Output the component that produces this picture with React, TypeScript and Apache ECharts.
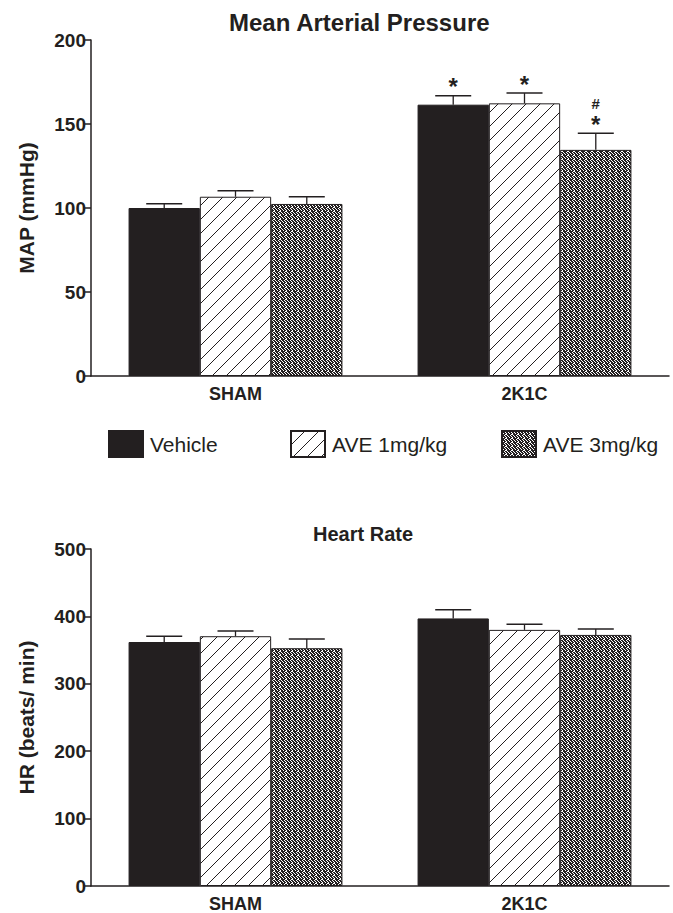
import React, { useEffect, useRef } from "react";
import * as echarts from "echarts";

const categories = ["SHAM", "2K1C"];
const seriesNames = ["Vehicle", "AVE 1mg/kg", "AVE 3mg/kg"];

// Mean Arterial Pressure (mmHg)
const mapVehicle = [100, 161.5];
const mapVehicleErr = [2.6, 5.3];
const mapAve1 = [106.7, 162.3];
const mapAve1Err = [3.6, 6.1];
const mapAve3 = [102.4, 134.6];
const mapAve3Err = [4.3, 9.9];
const mapStars = [["", "*"], ["", "*"], ["", "*"]];
const mapHashes = [["", ""], ["", ""], ["", "#"]];

// Heart Rate (beats/min)
const hrVehicle = [362, 397];
const hrVehicleErr = [8.6, 12.8];
const hrAve1 = [370.6, 380];
const hrAve1Err = [7.9, 8.3];
const hrAve3 = [352.8, 372.5];
const hrAve3Err = [13.8, 8.9];

const mapTicks = { min: 0, max: 200, interval: 50 };
const hrTicks = { min: 0, max: 500, interval: 100 };

const INK = "#231f20";
const FONT = "'Liberation Sans', Arial, Helvetica, sans-serif";
const CAT_GAP = 0.26;

function makeTile(w: number, h: number, rows: string[] | null, hatch: boolean) {
  const c = document.createElement("canvas");
  c.width = w;
  c.height = h;
  const ctx = c.getContext("2d")!;
  ctx.fillStyle = "#ffffff";
  ctx.fillRect(0, 0, w, h);
  ctx.fillStyle = INK;
  if (hatch) {
    for (let i = 0; i < w; i++) ctx.fillRect(i, h - 1 - i, 1, 1);
  } else if (rows) {
    rows.forEach((r, y) => {
      for (let x = 0; x < r.length; x++) if (r[x] === "1") ctx.fillRect(x, y, 1, 1);
    });
  }
  return { image: c.toDataURL(), repeat: "repeat", imageWidth: w, imageHeight: h } as any;
}

export default function App() {
  const ref = useRef<HTMLDivElement>(null);
  useEffect(() => {
    document.body.style.margin = "0";
    const chart = echarts.init(ref.current!, null, { renderer: "svg" });
    const hatch = makeTile(14, 14, null, true);
    const dots = makeTile(6, 4, ["110110", "011011", "101101", "111001"], false);
    const fills = [INK, hatch, dots];

    const barSeries = (vals: number[], i: number, gi: number) => ({
      name: seriesNames[i],
      type: "bar",
      xAxisIndex: gi,
      yAxisIndex: gi,
      data: vals,
      barGap: "0%",
      barCategoryGap: CAT_GAP * 100 + "%",
      itemStyle: { color: fills[i], borderColor: INK, borderWidth: 1 },
      emphasis: { disabled: true },
    });

    const errSeries = (means: number[][], errs: number[][], gi: number, stars?: string[][], hashes?: string[][]) => {
      const items: any[] = [];
      means.forEach((m, si) =>
        m.forEach((v, ci) => {
          items.push({
            value: [ci, si, v + errs[si][ci], v],
            star: stars ? stars[si][ci] : "",
            hash: hashes ? hashes[si][ci] : "",
          });
        })
      );
      return {
        type: "custom",
        xAxisIndex: gi,
        yAxisIndex: gi,
        z: 5,
        silent: true,
        data: items.map((d) => d.value),
        encode: { x: 0, y: 2 },
        renderItem: (params: any, api: any) => {
          const it = items[params.dataIndex];
          const ci = api.value(0);
          const si = api.value(1);
          const top = api.coord([ci, api.value(2)]);
          const mean = api.coord([ci, api.value(3)]);
          const band = api.size([1, 0])[0];
          const barW = (band * (1 - CAT_GAP)) / 3;
          const cx = top[0] + (si - 1) * barW;
          const capY = top[1];
          const children: any[] = [
            { type: "line", shape: { x1: cx, y1: mean[1], x2: cx, y2: capY }, style: { stroke: INK, lineWidth: 1.3 } },
            { type: "line", shape: { x1: cx - 18, y1: capY, x2: cx + 18, y2: capY }, style: { stroke: INK, lineWidth: 1.5 } },
          ];
          if (it.star) {
            children.push({
              type: "text",
              style: { text: it.star, x: cx, y: capY - 9, align: "center", verticalAlign: "middle", fontSize: 24, lineHeight: 14, fontWeight: "bold", fontFamily: FONT, fill: INK },
            });
          }
          if (it.hash) {
            children.push({
              type: "text",
              style: { text: it.hash, x: cx, y: capY - 30, align: "center", verticalAlign: "middle", fontSize: 15, lineHeight: 14, fontWeight: "bold", fontFamily: FONT, fill: INK },
            });
          }
          return { type: "group", children };
        },
      };
    };

    const xAxis = (gi: number) => ({
      type: "category",
      gridIndex: gi,
      data: categories,
      axisLine: { lineStyle: { color: INK, width: 1.5 } },
      axisTick: { show: false },
      axisLabel: { color: INK, fontSize: 18, fontWeight: "bold", fontFamily: FONT, margin: 9 },
    });
    const yAxis = (gi: number, t: any, name: string) => ({
      type: "value",
      gridIndex: gi,
      ...t,
      name,
      nameLocation: "middle",
      nameGap: 54,
      nameTextStyle: { color: INK, fontSize: 21, fontWeight: "bold", fontFamily: FONT },
      axisLine: { show: true, lineStyle: { color: INK, width: 1.5 } },
      axisTick: { show: true, length: 6, lineStyle: { color: INK, width: 1.5 } },
      axisLabel: { color: INK, fontSize: 19, fontWeight: "bold", fontFamily: FONT, margin: 5 },
      splitLine: { show: false },
    });

    const legend = (i: number, left: number) => ({
      data: [seriesNames[i]],
      left,
      top: 430,
      padding: 0,
      icon: "rect",
      itemWidth: 34,
      itemHeight: 26,
      itemGap: 10,
      selectedMode: false,
      textStyle: { color: INK, fontSize: 21, fontFamily: FONT, padding: [0, 0, 0, 2] },
    });

    chart.setOption({
      animation: false,
      backgroundColor: "#ffffff",
      title: [
        { text: "Mean Arterial Pressure", left: 224, top: 5, textStyle: { color: INK, fontSize: 24, fontWeight: "bold", fontFamily: FONT } },
        { text: "Heart Rate", left: 308, top: 519, textStyle: { color: INK, fontSize: 20, fontWeight: "bold", fontFamily: FONT } },
      ],
      legend: [legend(0, 108), legend(1, 290), legend(2, 501)],
      grid: [
        { left: 91, top: 40, width: 578, height: 336 },
        { left: 91, top: 549, width: 578, height: 338 },
      ],
      xAxis: [xAxis(0), xAxis(1)],
      yAxis: [yAxis(0, mapTicks, "MAP (mmHg)"), yAxis(1, hrTicks, "HR (beats/ min)")],
      series: [
        barSeries(mapVehicle, 0, 0),
        barSeries(mapAve1, 1, 0),
        barSeries(mapAve3, 2, 0),
        barSeries(hrVehicle, 0, 1),
        barSeries(hrAve1, 1, 1),
        barSeries(hrAve3, 2, 1),
        errSeries([mapVehicle, mapAve1, mapAve3], [mapVehicleErr, mapAve1Err, mapAve3Err], 0, mapStars, mapHashes),
        errSeries([hrVehicle, hrAve1, hrAve3], [hrVehicleErr, hrAve1Err, hrAve3Err], 1),
      ],
    });
    return () => chart.dispose();
  }, []);
  return <div ref={ref} style={{ width: 673, height: 913, position: "absolute", left: 0, top: 0 }} />;
}
